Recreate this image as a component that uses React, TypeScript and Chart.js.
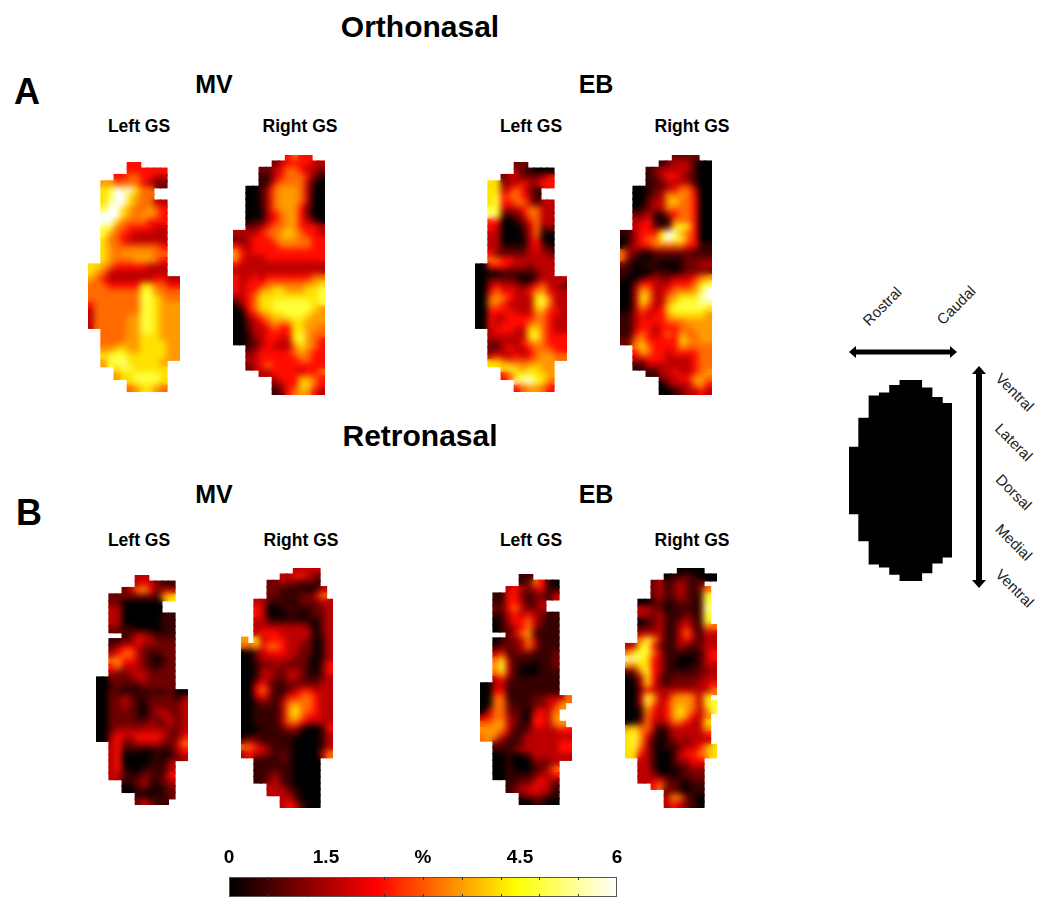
import React, { useEffect, useRef } from "react";
import { Chart, registerables } from "chart.js";

Chart.register(...registerables);

// Each row is one line of the map; each character picks a level from colorLevels (a = 6 %), "." = outside the mask.
const colorLevels = [0, 0.5, 1.0, 1.7, 2.4, 3.2, 3.6, 4.2, 4.8, 5.4, 6];
const orthoMvLeft = [
"......44......","......444444..","....44554433..","..6655554322..","..78a9a755....",
"..78aa7655....","..79aa765533..","..8aa7655654..","..aaa7656654..","..aa75555444..","..8855444433..",
"..8654433333..","..7554333333..","..7655555554..","..7656666655..","..7655566654..","776544444333..",
"765333333333..","65433333334433","55544444775544","55555555886555","55555555887655","45555555887666",
"35555555887666","35555566887666","35555566887666","..555566887666","..555566777666","..555666777766",
"..667766777766","..788877777766","..6889777776..","....78877777..","....67788887..","......788887..","......567765..",
];
const orthoMvRight = [
"........4544..","......23444433","....2234554332","....1134555421","....1145555310","..001356665300",
"..001356665300","..001356665300","..001356664200","..000345664200","..011345664310","..223455664443",
"33334556765443","22344456665544","43344445555544","64344444444444","64333444444444","43333333333333",
"33333333333333","43343444444455","43444555555667","43446677666778","33457777777778","13457788888878",
"01457788888876","00345677888766","00234566677666","00233454477665","00133444478655","00123443378654",
"..123433357654","..234444456544","..334444445544","..234544444444","....3344443445","......34446654",
"......23447754","......12456643",
];
const orthoEbLeft = [
"......22......","......311000..","....23322234..","..7723343344..","..77345421....","..78455431....",
"..7844553133..","..8833345533..","..9811235533..","..4400124533..","..4300013522..","..3300013500..",
"..3300003410..","..3311113421..","..4222223332..","..5544333333..","004443332333..","000011111233..",
"00222210023333","00343332345332","00454433466433","00565433378533","00554333378533","00444433366443",
"00433444455433","00434444565433","..344433775433","..333333785444","..223334565444","..223433455544",
"..343343456655","..7765555666..","....78767766..","....45788776..","......99a875..","......456654..",
];
const orthoEbRight = [
"........2222..","......12333100","....1233333100","....1234432100","....1123333100","..001223455300",
"..001236565400","..002336755400","..012336555400","..223113455400","..334101555400","..344212787400",
"1134447a965400","0134558a885400","02344555554411","53211222222111","52100111112222","21011100012233",
"11000111012222","10012322333456","00244333444578","0036533455568a","0037633567779a","00375336788899",
"00354347888887","11343446777776","11344445556666","11344344455666","11454345465566","22564444476566",
"..575444465555","..465443444455","..334443333455","..113333333455","....1133433456","......23344665",
"......02333564","......00123343",
];
const retroMvLeft = [
"......33......","......343211..","....23564233..","..2222222167..","..22000000....","..33000000....",
"..3300000011..","..3300000011..","..2211000011..","....12332111..","..1122433222..","..2344322222..",
"..3455321122..","..5644321012..","..4533321122..","..3223332222..","002222332222..","001211122222..",
"00211111111200","00223211222213","00223210222223","00222210233223","00222211223323","00222222322323",
"00233333333223","00343344443224","..342233332235","..341110111134","..340000010123","..3400001113..",
"..3410011113..","..3311122124..","....11231123..","....00121012..","......100112..","......23211...",
];
const retroMvRight = [
"........3333..","......334432..","....22322121..","....221111013.","....221112235.","..331111122233",
"..430011111223","..430001101223","..331111111023","..333333332023","..344433333023","6.734443332013",
"55645543322013","00234443322013","00233333221013","00122322221024","00133223321024","00133223321123",
"00342112222233","00453112344333","00342124455433","00122135655433","00111136755433","00111136754433",
"00111135543333","00011123310014","00111111100013","23211111000013","55432111000013","34332121000035",
"..1111210000..","..1111110000..","..1122110000..","..1123110000..","....33210000..","....33321000..",
"......331000..","......343100..",
];
const retroEbLeft = [
"......11......","......125410..","....34323411..","..1144212213..","..11443123....","..22453223....",
"..1134343211..","..0134453211..","..0123453111..","....23561111..","..0122353111..","..1222353111..",
"..3412221112..","..5731111112..","..6831100112..","..5731000111..","..3421111111..","003311111111..",
"004411111111..","00551111223335","0055211122346.","035522103435..","345532104436..","5566321144356.",
"66653112333344","56532123333333","..221123333344","..111233333344","..001001333333","..0010002223..",
"..0010001235..","..0011112334..","....11223432..","....12334331..","......233321..","......001100..",
];
const retroEbRight = [
"........0000..","......01121000","....23123212..","....231232125.","....231232118.","..00121122118.",
"..33220111119.","..33231112118.","..01231123218.","..122311342155","..333311353133","..586311343133",
"33784211321233","57885311111134","99874311000134","66774311001133","22684311111223","01374212222233",
"00374212222334","00243333333335","0038633566537.","00385346665378","00164346765368","0015434676435.",
"0025333554337.","6755302333336.","7864201333334.","7863101232333.","78531011233467","77431001344567",
"..3310013344..","..3310011233..","..3320001222..","..3333211122..","....45221011..","......221011..",
"......365210..","......343210..",
];
const maskStart = [20, 11.4, 4.7, 3.8, 1.6, 0, 0, 2.3, 5.2, 7];
const maskEnd = [40, 48, 55, 55.9, 58, 60, 60, 57.6, 54.7, 52.9];
const colorTicks = [0, 1.5, 3, 4.5, 6];
const colorTickLabels = ["0", "1.5", "%", "4.5", "6"];
const colorMinorTicks = [0.6, 1.2, 1.8, 2.4, 3, 3.6, 4.2, 4.8, 5.4];

const FONT = '"Liberation Sans", Arial, sans-serif';
const COLS = 14;

function hot(v: number): string {
  const r = Math.min(1, v / 2.3);
  const g = Math.max(0, Math.min(1, (v - 2.3) / 2.15));
  const b = Math.max(0, Math.min(1, (v - 4.45) / 1.55));
  return `rgb(${Math.round(r * 255)},${Math.round(g * 255)},${Math.round(b * 255)})`;
}

function cells(rows: string[]) {
  const out: { x: number; y: number; v: number }[] = [];
  rows.forEach((row, y) => {
    const r = row.padEnd(COLS, ".").slice(0, COLS);
    for (let x = 0; x < COLS; x++) {
      if (r[x] === ".") continue;
      out.push({ x: x + 0.5, y: y + 0.5, v: colorLevels[parseInt(r[x], 16)] });
    }
  });
  return out;
}

// Softens the interior of a map the way the source image's interpolation does, leaving the mask edge crisp.
const smoothInside = {
  id: "smoothInside",
  afterDatasetsDraw(c: any) {
    const { ctx, canvas } = c;
    const copy = document.createElement("canvas");
    copy.width = canvas.width;
    copy.height = canvas.height;
    copy.getContext("2d")!.drawImage(canvas, 0, 0);
    ctx.save();
    ctx.setTransform(1, 0, 0, 1, 0, 0);
    ctx.globalCompositeOperation = "source-atop";
    ctx.filter = "blur(3px)";
    ctx.drawImage(copy, 0, 0);
    ctx.restore();
  },
};

function HeatPanel({ rows, x, y, w, h }: { rows: string[]; x: number; y: number; w: number; h: number }) {
  const ref = useRef<HTMLCanvasElement>(null);
  useEffect(() => {
    const pts = cells(rows);
    const side = Math.max(w / COLS, h / rows.length) + 1.5;
    const chart = new Chart(ref.current!, {
      type: "scatter",
      data: {
        datasets: [{
          data: pts as any,
          pointStyle: "rect",
          pointRadius: side / Math.SQRT2,
          pointHoverRadius: side / Math.SQRT2,
          borderWidth: 0,
          pointBorderWidth: 0,
          backgroundColor: pts.map((p) => hot(p.v)),
          pointBackgroundColor: pts.map((p) => hot(p.v)),
        } as any],
      },
      options: {
        animation: false,
        responsive: false,
        events: [],
        layout: { padding: 0, autoPadding: false },
        plugins: { legend: { display: false }, tooltip: { enabled: false } },
        scales: {
          x: { type: "linear", display: false, min: 0, max: COLS },
          y: { type: "linear", display: false, min: 0, max: rows.length, reverse: true },
        },
      },
      plugins: [smoothInside],
    } as any);
    return () => chart.destroy();
  }, [rows, w, h]);
  return (
    <canvas ref={ref} width={w} height={h}
      style={{ position: "absolute", left: x, top: y, width: w, height: h, filter: "blur(0.5px)" }} />
  );
}

function MaskPanel() {
  const ref = useRef<HTMLCanvasElement>(null);
  useEffect(() => {
    const chart = new Chart(ref.current!, {
      type: "bar",
      data: {
        labels: maskStart.map((_, i) => String(i)),
        datasets: [{
          data: maskStart.map((s, i) => [s, maskEnd[i]]) as any,
          backgroundColor: "#000",
          barThickness: 11.6,
          borderWidth: 0,
        }],
      },
      options: {
        animation: false,
        responsive: false,
        events: [],
        plugins: { legend: { display: false }, tooltip: { enabled: false } },
        scales: {
          x: { display: false },
          y: { display: false, min: 0, max: 60, reverse: true },
        },
      },
    });
    return () => chart.destroy();
  }, []);
  return <canvas ref={ref} width={103} height={201} style={{ position: "absolute", left: 849, top: 380, width: 103, height: 201 }} />;
}

function ColorBar() {
  const ref = useRef<HTMLCanvasElement>(null);
  useEffect(() => {
    const frame = {
      id: "frame",
      afterDatasetsDraw(c: any) {
        const { ctx, chartArea: a, scales } = c;
        ctx.save();
        ctx.strokeStyle = "#555";
        ctx.lineWidth = 1;
        ctx.strokeRect(a.left + 0.5, a.top + 0.5, a.right - a.left - 1, a.bottom - a.top - 1);
        ctx.strokeStyle = "#333";
        colorMinorTicks.forEach((v) => {
          const px = Math.round(scales.x.getPixelForValue(v)) + 0.5;
          ctx.beginPath();
          ctx.moveTo(px, a.top); ctx.lineTo(px, a.top + 3);
          ctx.moveTo(px, a.bottom - 3); ctx.lineTo(px, a.bottom);
          ctx.stroke();
        });
        ctx.restore();
      },
    };
    const chart = new Chart(ref.current!, {
      type: "bar",
      data: {
        labels: ["%"],
        datasets: [{
          data: [[0, 6]] as any,
          barPercentage: 1,
          categoryPercentage: 1,
          borderWidth: 0,
          borderSkipped: false,
          backgroundColor: (ctx: any) => {
            const a = ctx.chart.chartArea;
            if (!a) return "#000";
            const g = ctx.chart.ctx.createLinearGradient(a.left, 0, a.right, 0);
            g.addColorStop(0, "#000");
            g.addColorStop(0.38, "#f00");
            g.addColorStop(0.74, "#ff0");
            g.addColorStop(1, "#fff");
            return g;
          },
        }],
      },
      options: {
        indexAxis: "y",
        animation: false,
        responsive: false,
        events: [],
        layout: { padding: { left: 20, right: 20, top: 10, bottom: 0 } },
        plugins: { legend: { display: false }, tooltip: { enabled: false } },
        scales: {
          y: { display: false },
          x: {
            type: "linear",
            position: "top",
            min: 0,
            max: 6,
            grid: { display: false, drawTicks: false },
            border: { display: false },
            afterBuildTicks: (s: any) => { s.ticks = colorTicks.map((value) => ({ value })); },
            afterFit: (s: any) => { s.height = 29; },
            ticks: {
              autoSkip: false,
              maxRotation: 0,
              padding: 8,
              color: "#000",
              font: { family: FONT, size: 19, weight: "bold" },
              callback: (v: any) => colorTickLabels[colorTicks.indexOf(Number(v))],
            },
          },
        },
      },
      plugins: [frame],
    } as any);
    return () => chart.destroy();
  }, []);
  return <canvas ref={ref} width={428} height={59} style={{ position: "absolute", left: 209, top: 838, width: 428, height: 59 }} />;
}

function T({ x, y, s, bold = true, rot = 0, children }: any) {
  return (
    <div style={{
      position: "absolute", left: x, top: y, whiteSpace: "nowrap", fontFamily: FONT, fontSize: s,
      fontWeight: bold ? "bold" : "normal", color: bold ? "#000" : "#222", lineHeight: 1,
      transform: `translate(-50%,-50%) rotate(${rot}deg)`,
    }}>{children}</div>
  );
}

const panels = [
  { rows: orthoMvLeft, x: 88, y: 162, w: 92, h: 230 },
  { rows: orthoMvRight, x: 233, y: 155, w: 92, h: 240 },
  { rows: orthoEbLeft, x: 475, y: 162, w: 92, h: 230 },
  { rows: orthoEbRight, x: 620, y: 155, w: 92, h: 240 },
  { rows: retroMvLeft, x: 96, y: 575, w: 92, h: 230 },
  { rows: retroMvRight, x: 241, y: 568, w: 92, h: 240 },
  { rows: retroEbLeft, x: 480, y: 574, w: 92, h: 231 },
  { rows: retroEbRight, x: 625, y: 568, w: 92, h: 240 },
];

export default function App() {
  return (
    <div style={{ position: "absolute", left: 0, top: 0, width: 1050, height: 909, overflow: "hidden", background: "#fff" }}>
      <T x={420} y={27} s={30}>Orthonasal</T>
      <T x={420} y={436} s={30}>Retronasal</T>
      <T x={27} y={92} s={36}>A</T>
      <T x={29} y={513} s={36}>B</T>
      <T x={214} y={84} s={25}>MV</T>
      <T x={596} y={84} s={25}>EB</T>
      <T x={214} y={494} s={25}>MV</T>
      <T x={596} y={494} s={25}>EB</T>
      <T x={139} y={127} s={17.5}>Left GS</T>
      <T x={300} y={127} s={17.5}>Right GS</T>
      <T x={531} y={127} s={17.5}>Left GS</T>
      <T x={692} y={127} s={17.5}>Right GS</T>
      <T x={139} y={541} s={17.5}>Left GS</T>
      <T x={301} y={541} s={17.5}>Right GS</T>
      <T x={531} y={541} s={17.5}>Left GS</T>
      <T x={692} y={541} s={17.5}>Right GS</T>
      {panels.map((p, i) => <HeatPanel key={i} {...p} />)}
      <MaskPanel />
      <ColorBar />
      <T x={882} y={306} s={15} bold={false} rot={-45}>Rostral</T>
      <T x={956} y={305} s={15} bold={false} rot={-45}>Caudal</T>
      <T x={1015} y={392} s={15} bold={false} rot={45}>Ventral</T>
      <T x={1014} y={442} s={15} bold={false} rot={45}>Lateral</T>
      <T x={1014} y={492} s={15} bold={false} rot={45}>Dorsal</T>
      <T x={1014} y={542} s={15} bold={false} rot={45}>Medial</T>
      <T x={1015} y={588} s={15} bold={false} rot={45}>Ventral</T>
      <svg width={1050} height={909} style={{ position: "absolute", left: 0, top: 0, pointerEvents: "none" }}>
        <line x1={853} y1={352} x2={953} y2={352} stroke="#000" strokeWidth={5} />
        <polygon points="849,352 856,346 856,358" fill="#000" />
        <polygon points="957,352 950,346 950,358" fill="#000" />
        <line x1={979} y1={372} x2={979} y2={582} stroke="#000" strokeWidth={6} />
        <polygon points="979,366 972,374 986,374" fill="#000" />
        <polygon points="979,588 972,580 986,580" fill="#000" />
      </svg>
    </div>
  );
}
